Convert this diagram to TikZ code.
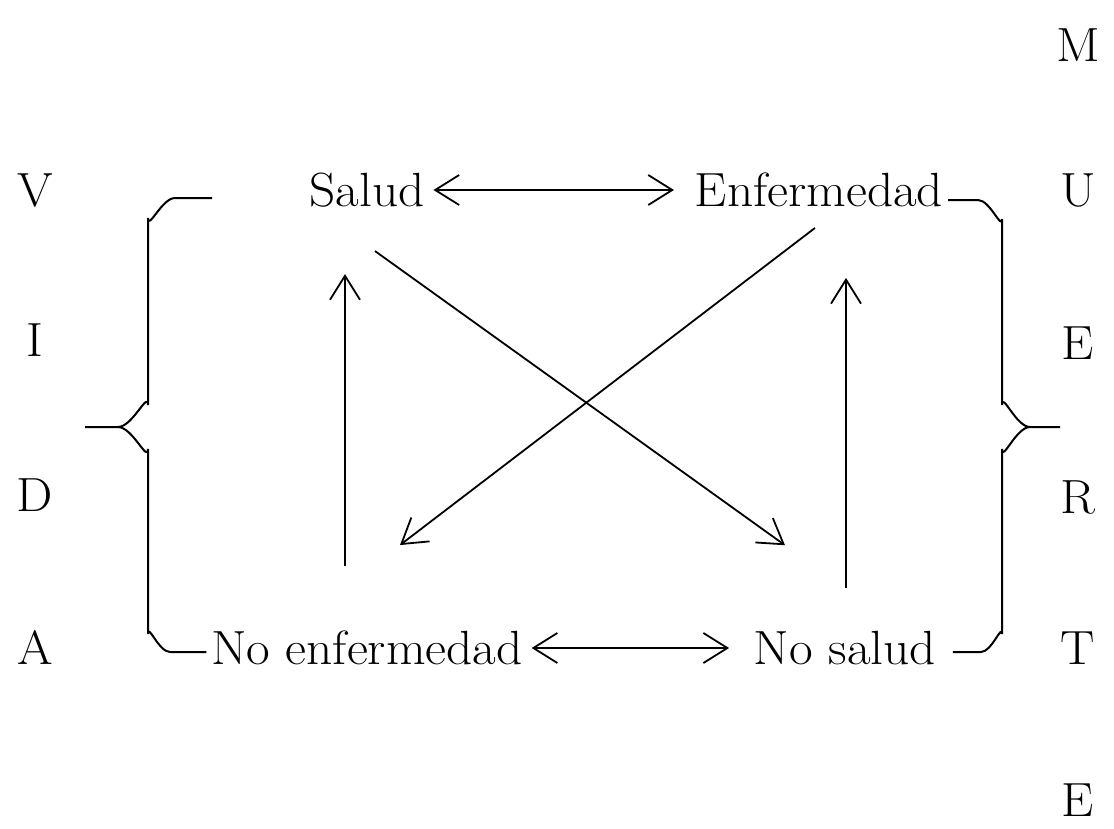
\documentclass[tikz,border=0pt]{standalone}
\usepackage{fontspec}
\setmainfont{Latin Modern Roman}[FakeStretch=1.07]
\usepackage{tikz}
\usetikzlibrary{arrows.meta}
\usetikzlibrary{positioning}
\tikzset{
    arr/.style={draw=black, -{Straight Barb[length=12pt,width=15pt]}},
    dblarr/.style={draw=black, {Straight Barb[length=12pt,width=15pt]}-{Straight Barb[length=12pt,width=15pt]}},
    brace/.style={draw=black, line width=1pt},
    state/.style={inner sep=2pt, font=\fontsize{24}{28}\selectfont},
    letter/.style={inner sep=0pt, font=\fontsize{24}{28}\selectfont},
}
\begin{document}
\begin{tikzpicture}[x=0.5pt, y=-0.5pt, line width=0.9pt]
	\useasboundingbox (0,0) rectangle (1114,829);
	% the four states
	\node[state] (sa) at (367,190) {Salud};
	\node[state] (en) at (819,190) {Enfermedad};
	\node[state] (ne) at (367,648) {No enfermedad};
	\node[state] (ns) at (845,648) {No salud};
	% side words
	\foreach \l/\y [count=\k] in {V/190,I/340,D/495,A/648}
		\node[letter] (vida\k) at (35,\y) {\l};
	\foreach \l/\y [count=\k] in {M/45,U/190,E/343,R/497,T/648,E/800}
		\node[letter] (muerte\k) at (1078,\y) {\l};
	% arrows
	\draw[dblarr, shorten <=2pt, shorten >=8pt] (sa.east) -- (en.west);
	\draw[dblarr, shorten <=2pt, shorten >=10pt] (ne.east) -- (ns.west);
	\draw[arr, shorten <=30pt, shorten >=31pt] ([xshift=-11pt]ne.north) -- ([xshift=-11pt]sa.south);
	\draw[arr, shorten <=19pt, shorten >=33pt] ([xshift=0.5pt]ns.north) -- ([xshift=0.5pt]ns.north |- en.south);
	\draw[arr] ([xshift=4pt,yshift=-19.5pt]sa.south) -- ([xshift=-30pt,yshift=40.5pt]ns.north);
	\draw[arr] ([xshift=-2pt,yshift=-8pt]en.south) -- ([xshift=16.5pt,yshift=40.5pt]ne.north);
	% braces
	\coordinate (vtop) at (212,198);
	\coordinate (vtip) at (85,427);
	\coordinate (mtip) at (1060,427);
	\draw[brace] (vtop) -- (175,198) to[out=180,in=-90] (148,218) -- (148,405)
		to[out=90,in=0] (118,427) -- (vtip);
	\draw[brace] (118,427) to[out=0,in=-90] (148,449) -- (148,634)
		to[out=90,in=180] (170,652) -- ([yshift=-2pt]ne.west);
	\draw[brace] ([yshift=-5pt]en.east) -- (978,200) to[out=0,in=-90] (1002,219) -- (1002,405)
		to[out=90,in=180] (1030,427) -- (mtip);
	\draw[brace] (1030,427) to[out=180,in=-90] (1002,449) -- (1002,634)
		to[out=90,in=0] (981,652) -- ([xshift=6pt,yshift=-2pt]ns.east);
\end{tikzpicture}
\end{document}
